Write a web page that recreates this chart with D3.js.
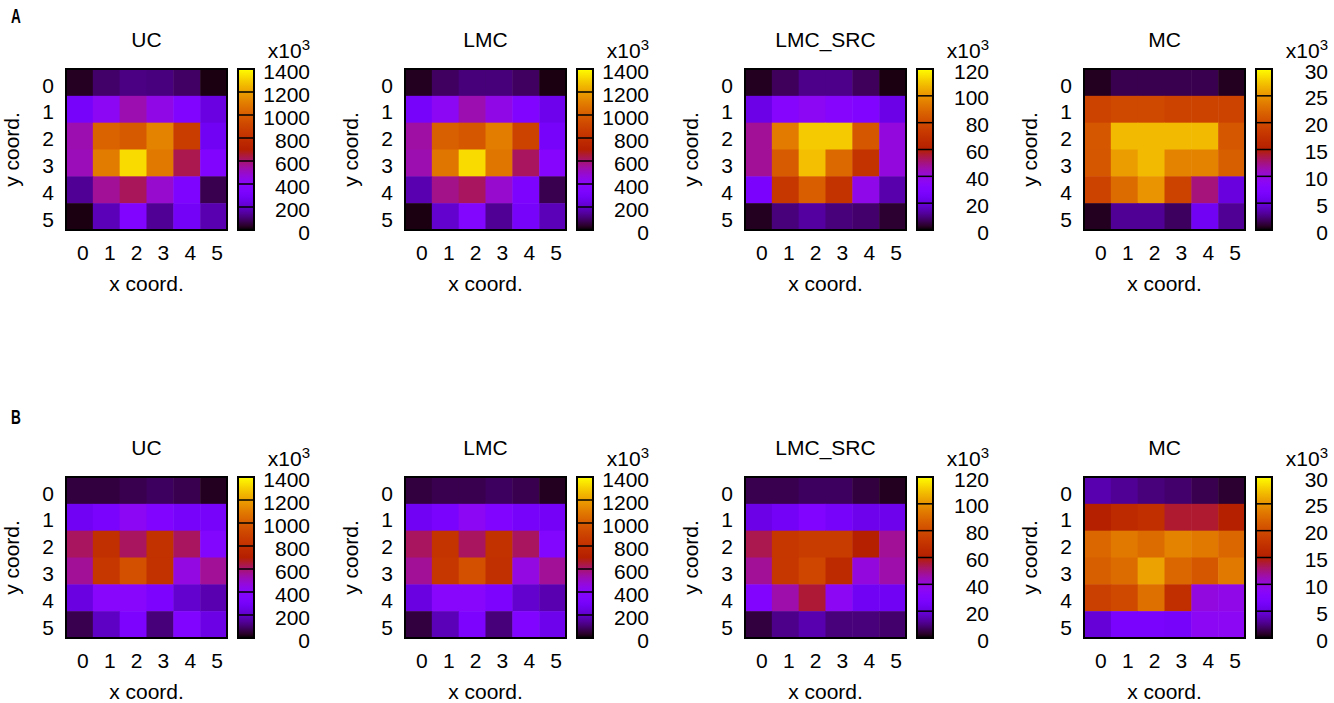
<!DOCTYPE html>
<html>
<head>
<meta charset="utf-8">
<script src="https://cdn.jsdelivr.net/npm/d3@7"></script>
<style>
  body { margin: 0; background: #fff; }
  text { font-family: "Liberation Sans", Arial, sans-serif; }
</style>
</head>
<body>
<div id="chart"></div>
<script>
// ===================== DATA (values in units of 10^3) =====================
const ROW_LABELS = ['A', 'B']
const METHODS = ['UC', 'LMC', 'LMC_SRC', 'MC']
const CB_MAX = [1400, 1400, 120, 30]
const CB_STEP = [200, 200, 20, 5]
const COORDS = [0, 1, 2, 3, 4, 5]

// rows are y coord. 0..5, columns are x coord. 0..5
const A_UC = [
  [30, 95, 120, 115, 90, 15],
  [310, 420, 530, 450, 350, 240],
  [530, 1020, 990, 1120, 870, 280],
  [520, 1100, 1330, 1090, 630, 360],
  [140, 560, 620, 490, 340, 70],
  [15, 180, 350, 140, 290, 170]
]
const A_LMC = [
  [28, 85, 110, 110, 85, 14],
  [310, 420, 530, 450, 350, 265],
  [545, 1010, 980, 1105, 895, 310],
  [530, 1080, 1330, 1080, 615, 380],
  [170, 575, 615, 490, 335, 70],
  [14, 210, 365, 140, 310, 180]
]
const A_LMC_SRC = [
  [2.4, 7, 10.8, 10.8, 7, 1.2],
  [21.6, 32.4, 36, 32.4, 30, 21.6],
  [48, 94, 111, 111, 84, 40],
  [48, 85, 109, 89, 70, 40],
  [28, 72, 86, 70, 38, 14],
  [2.4, 9.6, 13, 9.6, 8.4, 3.6]
]
const A_MC = [
  [0.6, 1.5, 1.5, 1.5, 1.5, 0.6],
  [19.2, 19.8, 19.8, 19.2, 19.2, 19.2],
  [21, 27, 27, 27, 27, 21],
  [21, 25.5, 27, 24, 24, 21.6],
  [19.2, 22.5, 25, 19.2, 12.6, 5.1],
  [0.6, 3, 3, 1.8, 6, 3]
]
const B_UC = [
  [56, 56, 70, 84, 70, 28],
  [280, 320, 420, 350, 310, 310],
  [615, 800, 615, 810, 615, 365],
  [560, 840, 950, 810, 460, 560],
  [240, 390, 390, 335, 210, 170],
  [70, 195, 335, 110, 350, 250]
]
const B_LMC = [
  [56, 70, 70, 84, 70, 28],
  [280, 320, 420, 350, 310, 295],
  [615, 825, 615, 810, 615, 365],
  [560, 840, 950, 800, 460, 560],
  [240, 390, 390, 335, 210, 170],
  [56, 180, 335, 110, 350, 265]
]
const B_LMC_SRC = [
  [6, 6, 7.2, 7.2, 4.8, 2.4],
  [21.6, 25, 30, 26.4, 22.8, 22.8],
  [54, 72, 74, 74, 60, 48],
  [48, 72, 78, 66, 40, 46],
  [31, 46, 56, 36, 24, 24],
  [4.8, 10.8, 14.4, 9.6, 9.6, 8.4]
]
const B_MC = [
  [3.6, 3, 2.4, 2.1, 1.5, 0.9],
  [15, 16.5, 17.1, 14.1, 14.1, 15],
  [22.2, 23.4, 22.5, 24, 23.4, 22.2],
  [21.6, 22.5, 25.8, 22.2, 21, 23.4],
  [18.9, 19.8, 22.8, 17.1, 9.9, 9.6],
  [4.8, 6.9, 6.9, 6.6, 9, 9]
]
const GRIDS = [
  [A_UC, A_LMC, A_LMC_SRC, A_MC],
  [B_UC, B_LMC, B_LMC_SRC, B_MC]
]

// ===================== LAYOUT =====================
const WIDTH = 1334
const HEIGHT = 703
const FONT_SIZE = 21
const PANEL_X = [66, 405, 745, 1084]
const ROW_Y = [69, 477]
const ROW_LABEL_Y = [23, 424]
const MAP_SIZE = 161
const CB_OFFSET = 172
const CB_WIDTH = 16

// gnuplot default pm3d palette (rgbformulae 7,5,15)
function palette (t) {
  t = Math.max(0, Math.min(1, t))
  const r = Math.sqrt(t)
  const g = t * t * t
  const b = Math.max(0, Math.sin(2 * Math.PI * t))
  return d3.rgb(r * 255, g * 255, b * 255).formatHex()
}

const svg = d3.select('#chart').append('svg')
  .attr('width', WIDTH)
  .attr('height', HEIGHT)

const defs = svg.append('defs')
const grad = defs.append('linearGradient')
  .attr('id', 'cbgrad')
  .attr('x1', 0).attr('y1', 1).attr('x2', 0).attr('y2', 0)
d3.range(0, 1.0001, 0.02).forEach(t => {
  grad.append('stop').attr('offset', t).attr('stop-color', palette(t))
})

// row labels A / B
ROW_LABELS.forEach((lab, r) => {
  svg.append('text')
    .attr('transform', 'translate(11,' + ROW_LABEL_Y[r] + ') scale(0.65,1)')
    .attr('font-size', 21)
    .attr('font-weight', 'bold')
    .text(lab)
})

ROW_LABELS.forEach((lab, r) => {
  METHODS.forEach((method, m) => {
    drawPanel(PANEL_X[m], ROW_Y[r], method, GRIDS[r][m], CB_MAX[m], CB_STEP[m])
  })
})

function drawPanel (x0, y0, title, grid, maxVal, step) {
  const g = svg.append('g').attr('transform', 'translate(' + x0 + ',' + y0 + ')')

  const xScale = d3.scaleBand().domain(COORDS).range([0, MAP_SIZE])
  const yScale = d3.scaleBand().domain(COORDS).range([0, MAP_SIZE])
  const color = d3.scaleSequential(palette).domain([0, maxVal])

  // cells
  grid.forEach((row, yi) => {
    row.forEach((v, xi) => {
      g.append('rect')
        .attr('x', xScale(COORDS[xi]))
        .attr('y', yScale(COORDS[yi]))
        .attr('width', xScale.bandwidth() + 0.5)
        .attr('height', yScale.bandwidth() + 0.5)
        .attr('fill', color(v))
    })
  })
  g.append('rect')
    .attr('width', MAP_SIZE).attr('height', MAP_SIZE)
    .attr('fill', 'none').attr('stroke', '#000').attr('stroke-width', 2)

  // axes
  const xAxis = g.append('g')
    .attr('transform', 'translate(0,' + MAP_SIZE + ')')
    .call(d3.axisBottom(xScale).tickSize(0).tickPadding(15))
  const yAxis = g.append('g')
    .call(d3.axisLeft(yScale).tickSize(0).tickPadding(12))
  ;[xAxis, yAxis].forEach(a => {
    a.select('.domain').remove()
    a.attr('font-size', FONT_SIZE).attr('font-family', null)
  })
  xAxis.selectAll('text').attr('dx', 3.5).attr('fill', '#000')
  yAxis.selectAll('text').attr('dy', '0.48em').attr('fill', '#000')

  // title and axis labels
  g.append('text')
    .attr('x', MAP_SIZE / 2).attr('y', -22)
    .attr('text-anchor', 'middle').attr('font-size', FONT_SIZE)
    .text(title)
  g.append('text')
    .attr('x', MAP_SIZE / 2).attr('y', MAP_SIZE + 61)
    .attr('text-anchor', 'middle').attr('font-size', FONT_SIZE)
    .text('x coord.')
  g.append('text')
    .attr('transform', 'translate(-47,' + (MAP_SIZE / 2) + ') rotate(-90)')
    .attr('text-anchor', 'middle').attr('font-size', FONT_SIZE)
    .text('y coord.')

  // colorbar
  const cb = g.append('g').attr('transform', 'translate(' + CB_OFFSET + ',0)')
  const cbScale = d3.scaleLinear().domain([0, maxVal]).range([MAP_SIZE, 0])
  const ticks = d3.range(0, maxVal + step / 2, step)
  cb.append('rect')
    .attr('width', CB_WIDTH).attr('height', MAP_SIZE)
    .attr('fill', 'url(#cbgrad)')
  cb.selectAll('line.tick')
    .data(ticks.slice(1, -1))
    .join('line')
    .attr('x1', 0).attr('x2', CB_WIDTH)
    .attr('y1', d => cbScale(d)).attr('y2', d => cbScale(d))
    .attr('stroke', '#000').attr('stroke-width', 1.5)
  cb.append('rect')
    .attr('width', CB_WIDTH).attr('height', MAP_SIZE)
    .attr('fill', 'none').attr('stroke', '#000').attr('stroke-width', 2)

  const cbAxis = cb.append('g')
    .attr('transform', 'translate(' + CB_WIDTH + ',0)')
    .call(d3.axisRight(cbScale).tickValues(ticks).tickSize(0).tickPadding(56).tickFormat(d3.format('d')))
  cbAxis.select('.domain').remove()
  cbAxis.attr('font-size', FONT_SIZE).attr('font-family', null)
  cbAxis.selectAll('text')
    .attr('text-anchor', 'end')
    .attr('dy', '0.43em')
    .attr('fill', '#000')

  const mult = cb.append('text')
    .attr('x', CB_WIDTH + 56).attr('y', -11)
    .attr('text-anchor', 'end').attr('font-size', FONT_SIZE)
  mult.append('tspan').text('x10')
  mult.append('tspan').attr('dy', -8).attr('font-size', 15).text('3')
}
</script>
</body>
</html>
